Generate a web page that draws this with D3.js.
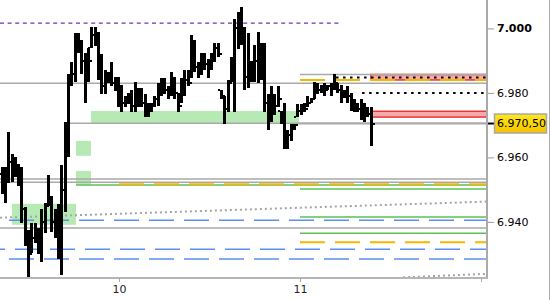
<!DOCTYPE html>
<html>
<head>
<meta charset="utf-8">
<script src="https://cdn.jsdelivr.net/npm/d3@7"></script>
<style>
  body { margin: 0; background: #fff; }
  svg { display: block; font-family: "DejaVu Sans", sans-serif; font-size: 11px; }
</style>
</head>
<body>
<div id="chart"></div>
<script>
const width = 550, height = 300, plotW = 487, plotH = 278

// time axis in days of the month, price axis in index points
const dayMin = 9.3425, dayMax = 12.033
const priceMin = 6922.6, priceMax = 7008.8
const dayTicks = [10, 11, 12]
const priceTicks = [6940, 6960, 6980, 7000]
const lastPrice = 6970.5

// bars (about 26 minutes each)
const barStart = 9.351, barStep = 0.01837
const barOpen = [6955, 6950, 6955, 6958.5, 6956, 6955, 6953, 6944, 6935, 6930.5, 6935, 6936, 6932, 6940, 6945, 6947, 6940, 6937, 6932, 6950,
  6965, 6985, 6986, 6994, 6995, 6990, 6985, 6994, 6998, 6996, 6988, 6982, 6984, 6985, 6983, 6981, 6978, 6977, 6977, 6978,
  6976, 6979, 6978, 6977, 6974, 6975, 6976, 6978, 6981, 6982, 6981, 6980, 6983, 6980, 6977, 6981, 6984, 6984.5, 6993, 6988,
  6987, 6990, 6989, 6988, 6991, 6994, 6981, 6979, 6975, 6983.5, 6989, 7000, 6998, 6996, 6985, 6988, 6986, 6990, 6987, 6990,
  6977, 6973, 6977, 6976, 6974.5, 6972, 6965, 6967, 6969, 6972.5, 6974.5, 6975, 6975.5, 6977, 6978, 6981, 6981, 6981, 6981, 6982,
  6982, 6983, 6981, 6980, 6979.5, 6979, 6976, 6976, 6975, 6974, 6973, 6973.5]
const barHigh = [6957, 6957, 6968, 6961, 6960, 6958, 6957, 6944.5, 6937.5, 6939.5, 6939.5, 6938, 6944, 6946, 6954.5, 6948, 6944, 6945.5, 6957.5, 6971,
  6986, 6989.5, 6998.5, 6998.5, 6996.5, 6992.5, 6994, 7000.5, 7000.5, 6999, 6992, 6987, 6986.5, 6989.5, 6985, 6985, 6982.5, 6979, 6980, 6981,
  6983.5, 6981.5, 6981.5, 6979.5, 6977, 6977, 6979, 6983, 6984.5, 6984.5, 6982, 6986.5, 6985, 6980, 6984.5, 6987, 6987, 6998, 6996.5, 6989.5,
  6992.5, 6992.5, 6990.5, 6992.5, 6995.5, 6995.5, 6981, 6979, 6984, 6991, 7003, 7005, 7006.5, 7000.5, 6998.5, 6990, 6995, 6999, 6995.5, 6995.5,
  6979.5, 6982, 6979.5, 6982, 6974.5, 6977, 6968.5, 6970.5, 6970.5, 6976.5, 6976.5, 6977, 6979, 6978.5, 6983.5, 6983, 6982.5, 6983, 6982.5, 6983,
  6986, 6983, 6982.5, 6981, 6982, 6980, 6978, 6977, 6978, 6977, 6975.5, 6975.5]
const barLow = [6948.5, 6946, 6952, 6952.5, 6954, 6951, 6939.5, 6932.5, 6923, 6930.5, 6933.5, 6930, 6927.5, 6936.5, 6945, 6937, 6935, 6928.5, 6923.5, 6943,
  6960, 6982, 6983.5, 6992.5, 6986, 6977, 6983.5, 6994, 6994.5, 6984, 6979.5, 6979.5, 6983, 6982, 6980.5, 6975.5, 6974, 6975.5, 6976.5, 6974,
  6974, 6975.5, 6975.5, 6972.5, 6972.5, 6974, 6975.5, 6976, 6979, 6979.5, 6978, 6979, 6978, 6974, 6977, 6979, 6982, 6984.5, 6986.5, 6984.5,
  6985.5, 6987, 6984.5, 6987, 6989.5, 6991, 6978, 6970.5, 6974, 6983.5, 6974, 6993.5, 6995, 6981, 6981.5, 6983.5, 6983.5, 6983, 6984, 6974,
  6968.5, 6971, 6973, 6975.5, 6970.5, 6962.5, 6962.5, 6965, 6968.5, 6972.5, 6973, 6974, 6975.5, 6977, 6978, 6979.5, 6980, 6979, 6981, 6979,
  6981, 6980, 6977, 6978.5, 6977, 6974.5, 6974, 6974, 6971.5, 6971, 6972.5, 6963.5]
const barClose = [6950, 6955, 6958.5, 6956, 6955, 6953, 6944, 6935, 6930, 6935, 6936, 6932, 6940, 6945, 6947, 6940, 6937, 6932, 6950, 6965,
  6985, 6986, 6994, 6995, 6990, 6985, 6990, 6998, 6996, 6988, 6982, 6984, 6985, 6983, 6981, 6978, 6977, 6977, 6978, 6976,
  6979, 6978, 6977, 6974, 6975, 6976, 6978, 6981, 6982, 6981, 6980, 6983, 6980, 6976, 6981, 6984, 6983, 6993, 6988, 6987,
  6990, 6989, 6988, 6991, 6994, 6992, 6979, 6975, 6983, 6989, 7000, 6998, 6996, 6985, 6988, 6986, 6990, 6987, 6990, 6977,
  6973, 6977, 6976, 6978, 6972, 6965, 6967, 6969, 6970, 6974.5, 6975, 6975, 6977, 6978, 6981, 6981, 6981, 6981, 6982, 6982,
  6983, 6981, 6980, 6979.5, 6979, 6976, 6976, 6975, 6974, 6973, 6973.5, 6970.5]

// horizontal levels: [price, from day, to day]
const grayLevels = [[6983.0, dayMin, dayMax], [6985.7, 11.0, dayMax], [6970.6, 9.702, dayMax],
  [6953.3, dayMin, dayMax], [6952.3, dayMin, dayMax], [6938.1, dayMin, dayMax]]
const greenLevels = [[6951.4, 9.762, dayMax], [6950.2, 11.0, dayMax], [6941.5, 11.0, dayMax], [6936.5, 11.0, dayMax]]
const orangeLevels = [[6951.7, 10.0, dayMax], [6984.0, 11.0, dayMax], [6933.7, 11.0, dayMax]]
// blue dashed: [price, day where a dash begins]
const blueLevels = [[6940.5, 9.3922], [6931.5, 9.4254], [6928.5, 9.3922]]
const purpleLevels = [[7001.6, dayMin, 11.232]]
const dottedLevels = [[6984.8, 11.199, dayMax], [6980.0, 11.343, dayMax]]
const lastLevelFrom = 10.99
// trend lines: [day0, price0, day1, price1]
const trendLines = [[dayMin, 6941.3, dayMax, 6946.3], [11.569, 6922.8, dayMax, 6923.9]]
// zones: [day0, day1, priceLow, priceHigh]
const greenZones = [[9.845, 10.995, 6970.6, 6974.4], [9.762, 9.845, 6960.5, 6965.1],
  [9.762, 9.845, 6951.5, 6955.8], [9.409, 9.762, 6939.1, 6945.6]]
const redZones = [[11.387, dayMax, 6984.0, 6985.7], [11.387, dayMax, 6972.5, 6974.3]]

const x = d3.scaleLinear().domain([dayMin, dayMax]).range([0, plotW])
const y = d3.scaleLinear().domain([priceMin, priceMax]).range([plotH, 0])

const de = d3.formatLocale({ decimal: ",", thousands: ".", grouping: [3], currency: ["", " €"] })
const fmtTick = de.format(",.0f")
const fmtLast = de.format(",.2f")

const svg = d3.select("#chart").append("svg")
  .attr("width", width)
  .attr("height", height)

const defs = svg.append("defs")
defs.append("clipPath").attr("id", "plotclip")
  .append("rect").attr("width", plotW).attr("height", plotH)
const grad = defs.append("linearGradient").attr("id", "lastgrad")
  .attr("x1", 0).attr("y1", 0).attr("x2", 0).attr("y2", 1)
grad.append("stop").attr("offset", "0%").attr("stop-color", "#ffe81f")
grad.append("stop").attr("offset", "100%").attr("stop-color", "#f3c200")

const plot = svg.append("g").attr("clip-path", "url(#plotclip)")

// zones
plot.selectAll(".gzone").data(greenZones).enter().append("rect")
  .attr("x", d => x(d[0])).attr("width", d => x(d[1]) - x(d[0]))
  .attr("y", d => y(d[3])).attr("height", d => y(d[2]) - y(d[3]))
  .attr("fill", "#b6e9b3")
plot.selectAll(".rzone").data(redZones).enter().append("rect")
  .attr("x", d => x(d[0]) + 0.75).attr("width", d => x(d[1]) - x(d[0]))
  .attr("y", d => y(d[3])).attr("height", d => y(d[2]) - y(d[3]))
  .attr("fill", "#f5abab").attr("stroke", "#e53935").attr("stroke-width", 1.5)

function hlines(data, color, w, dash, cls) {
  plot.selectAll("." + cls).data(data).enter().append("line")
    .attr("class", cls)
    .attr("x1", d => x(d[1])).attr("x2", d => x(d[2]))
    .attr("y1", d => y(d[0])).attr("y2", d => y(d[0]))
    .attr("stroke", color).attr("stroke-width", w)
    .attr("stroke-dasharray", dash)
}

hlines(grayLevels, "#a9a9a9", 1.4, null, "gray")

plot.selectAll(".trend").data(trendLines).enter().append("line")
  .attr("x1", d => x(d[0])).attr("y1", d => y(d[1]))
  .attr("x2", d => x(d[2])).attr("y2", d => y(d[3]))
  .attr("stroke", "#a5a5a5").attr("stroke-width", 2)
  .attr("stroke-dasharray", "2,3")

plot.selectAll(".blue").data(blueLevels).enter().append("line")
  .attr("x1", 0).attr("x2", plotW)
  .attr("y1", d => y(d[0])).attr("y2", d => y(d[0]))
  .attr("stroke", "#5b8ff0").attr("stroke-width", 1.5)
  .attr("stroke-dasharray", "25,10")
  .attr("stroke-dashoffset", d => (35 - x(d[1]) % 35) % 35)

hlines(greenLevels, "#5cc152", 1.5, null, "green")
hlines(orangeLevels, "#f7b500", 2, "25,10", "orange")
hlines(purpleLevels, "#7a2ea8", 1.2, "4,3.6", "purple")
hlines(dottedLevels, "#000", 2, "2.5,4.5", "dots")

// last price line
plot.append("line")
  .attr("x1", x(lastLevelFrom)).attr("x2", plotW)
  .attr("y1", y(lastPrice)).attr("y2", y(lastPrice))
  .attr("stroke", "#a9a9a9").attr("stroke-width", 2)

// OHLC bars
const bars = barHigh.map((h, i) => ({
  t: barStart + i * barStep, o: barOpen[i], h: h, l: barLow[i], c: barClose[i]
}))

const bar = plot.selectAll(".bar").data(bars).enter().append("g")
  .attr("class", "bar")
  .attr("shape-rendering", "crispEdges")
  .attr("fill", "#000")

bar.append("rect")
  .attr("x", d => Math.round(x(d.t)) - 1)
  .attr("width", 3)
  .attr("y", d => Math.round(y(d.h)))
  .attr("height", d => Math.max(2, Math.round(y(d.l)) - Math.round(y(d.h))))
bar.append("rect")
  .attr("x", d => Math.round(x(d.t)) - 3)
  .attr("width", 2)
  .attr("y", d => Math.round(y(d.o)) - 1)
  .attr("height", 2)
bar.append("rect")
  .attr("x", d => Math.round(x(d.t)) + 2)
  .attr("width", 2)
  .attr("y", d => Math.round(y(d.c)) - 1)
  .attr("height", 2)

// frame
svg.append("rect").attr("x", plotW - 1).attr("y", 0).attr("width", 2).attr("height", plotH + 1)
  .attr("fill", "#aaa")
svg.append("rect").attr("x", 0).attr("y", plotH - 1).attr("width", plotW + 1).attr("height", 2)
  .attr("fill", "#b5b5b5")
svg.append("rect").attr("x", width - 1).attr("y", 0).attr("width", 1).attr("height", height)
  .attr("fill", "#aaa")

// price axis
const yAxis = svg.append("g")
  .attr("transform", `translate(${plotW + 1},0)`)
  .call(d3.axisRight(y).tickValues(priceTicks).tickSize(6).tickPadding(3).tickFormat(fmtTick))
yAxis.select(".domain").remove()
yAxis.selectAll("line").attr("stroke", "#999")
yAxis.selectAll("text")
  .attr("fill", "#000")
  .style("font-family", "DejaVu Sans")
  .style("font-size", "11px")
  .style("font-weight", d => d % 100 === 0 ? "bold" : "normal")

// last price marker
svg.append("line")
  .attr("x1", plotW + 1).attr("x2", plotW + 7)
  .attr("y1", y(lastPrice)).attr("y2", y(lastPrice))
  .attr("stroke", "#000").attr("stroke-width", 2)
svg.append("rect")
  .attr("x", plotW + 7.5).attr("y", y(lastPrice) - 9.5)
  .attr("width", 52).attr("height", 19)
  .attr("fill", "url(#lastgrad)").attr("stroke", "#a8a8a8").attr("stroke-width", 1.5)
svg.append("text")
  .attr("x", plotW + 10).attr("y", y(lastPrice))
  .attr("dy", "0.36em")
  .attr("fill", "#000")
  .text(fmtLast(lastPrice))

// time axis
const xAxis = svg.append("g")
  .attr("transform", `translate(0,${plotH})`)
  .call(d3.axisBottom(x).tickValues(dayTicks).tickSize(4).tickPadding(3)
    .tickFormat(d => d < 12 ? d : ""))
xAxis.select(".domain").remove()
xAxis.selectAll("line").attr("stroke", "#aaa")
xAxis.selectAll("text")
  .attr("fill", "#222")
  .style("font-family", "DejaVu Sans")
  .style("font-size", "11px")
</script>
</body>
</html>
